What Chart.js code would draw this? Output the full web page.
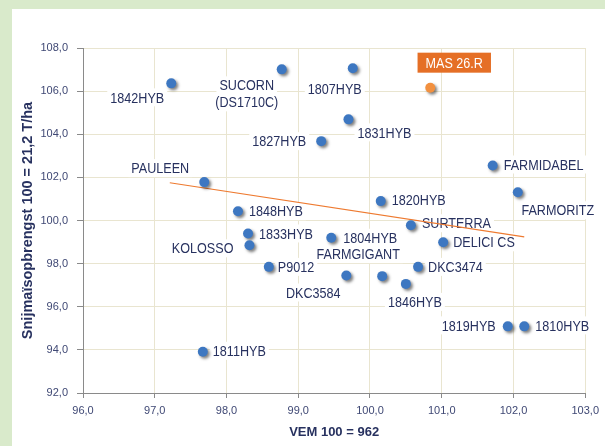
<!DOCTYPE html>
<html><head><meta charset="utf-8">
<script src="https://cdn.jsdelivr.net/npm/chart.js@4"></script>
<style>html,body{margin:0;padding:0;background:#fff;overflow:hidden}canvas{display:block}</style>
</head><body>
<canvas id="c" width="605" height="446"></canvas>
<script>
// ---- data ----
const varieties = ['1842HYB','SUCORN (DS1710C)','1807HYB','1831HYB','1827HYB','PAULEEN','1848HYB','1833HYB','KOLOSSO','P9012','DKC3584','1811HYB','FARMIDABEL','FARMORITZ','1820HYB','SURTERRA','DELICI CS','1804HYB','FARMGIGANT','DKC3474','1846HYB','1819HYB','1810HYB'];
const vem       = [97.23, 98.77, 99.76, 99.70, 99.32, 97.69, 98.16, 98.30, 98.32, 98.59, 99.67, 97.67, 101.71, 102.06, 100.15, 100.57, 101.02, 99.46, 100.17, 100.67, 100.50, 101.92, 102.15];
const yieldIdx  = [106.36, 107.01, 107.06, 104.69, 103.68, 101.78, 100.43, 99.40, 98.85, 97.85, 97.45, 93.91, 102.55, 101.31, 100.90, 99.78, 98.99, 99.20, 97.42, 97.85, 97.06, 95.09, 95.09];
const highlightName  = ['MAS 26.R'];
const highlightVem   = [100.84];
const highlightYield = [106.16];
const trendVem   = [97.21, 102.15];
const trendYield = [101.75, 99.24];
const xTicks = [96, 97, 98, 99, 100, 101, 102, 103];
const yTicks = [92, 94, 96, 98, 100, 102, 104, 106, 108];
const xTitle = 'VEM 100 = 962';
const yTitle = 'Snijmaïsopbrengst 100 = 21,2 T/ha';

// ---- label placement (style) ----
const labelPlacement = {
  '1842HYB': {align:'center', dx:-34, dy:14},
  'SUCORN (DS1710C)': {align:'center', dx:-35, dy:16, lines:['SUCORN','(DS1710C)']},
  '1807HYB': {align:'center', dx:-18, dy:21},
  '1831HYB': {align:'center', dx:36, dy:13},
  '1827HYB': {align:'right', dx:-15, dy:0},
  'PAULEEN': {align:'center', dx:-44, dy:-14},
  '1848HYB': {align:'left', dx:11, dy:0},
  '1833HYB': {align:'left', dx:11, dy:0},
  'KOLOSSO': {align:'right', dx:-16, dy:3},
  'P9012': {align:'left', dx:9, dy:0},
  'DKC3584': {align:'center', dx:-33, dy:17},
  '1811HYB': {align:'left', dx:10, dy:-1},
  'FARMIDABEL': {align:'left', dx:11, dy:-1},
  'FARMORITZ': {align:'center', dx:40, dy:18},
  '1820HYB': {align:'left', dx:11, dy:-1},
  'SURTERRA': {align:'left', dx:11, dy:-2},
  'DELICI CS': {align:'left', dx:10, dy:0},
  '1804HYB': {align:'left', dx:12, dy:0},
  'FARMGIGANT': {align:'center', dx:-24, dy:-22},
  'DKC3474': {align:'left', dx:10, dy:0},
  '1846HYB': {align:'center', dx:9, dy:18},
  '1819HYB': {align:'right', dx:-12, dy:-1},
  '1810HYB': {align:'left', dx:11, dy:-1},
  'MAS 26.R': {align:'center', dx:24, dy:-25, box:true}
};

const FONT = '"Liberation Sans", Arial, sans-serif';
const NAVY = '#27315f';
const GRID = '#e9e5d0';
const AXIS = '#8a8a8a';
const CONDENSE = 0.84;

const bgPlugin = {
  id: 'bg',
  beforeDraw(chart) {
    const ctx = chart.ctx;
    ctx.save();
    ctx.fillStyle = '#d9eacb';
    ctx.fillRect(0, 0, chart.width, chart.height);
    ctx.fillStyle = '#ffffff';
    ctx.fillRect(12, 9, chart.width - 12, chart.height - 9);
    ctx.restore();
  }
};

const labelPlugin = {
  id: 'pointLabels',
  beforeDatasetsDraw(chart) {
    const ctx = chart.ctx;
    ctx.save();
    ctx.font = '15px ' + FONT;
    ctx.textBaseline = 'middle';
    ctx.textAlign = 'left';
    [[0, varieties], [1, highlightName]].forEach(([di, names]) => {
      const meta = chart.getDatasetMeta(di);
      meta.data.forEach((el, j) => {
        const name = names[j];
        const p = labelPlacement[name];
        if (!p) return;
        const lines = p.lines || [name];
        lines.forEach((line, k) => {
          const w = ctx.measureText(line).width * CONDENSE;
          const cy = el.y + p.dy + k * 17;
          let x0;
          if (p.align === 'left') x0 = el.x + p.dx;
          else if (p.align === 'right') x0 = el.x + p.dx - w;
          else x0 = el.x + p.dx - w / 2;
          if (p.box) {
            ctx.fillStyle = '#e56f26';
            ctx.fillRect(x0 - 8, cy - 10, w + 16, 20);
            ctx.fillStyle = '#ffffff';
          } else {
            ctx.fillStyle = '#ffffff';
            ctx.fillRect(x0 - 3, cy - 9, w + 6, 18);
            ctx.fillStyle = NAVY;
          }
          ctx.save();
          ctx.translate(x0, cy + 1);
          ctx.scale(CONDENSE, 1);
          ctx.fillText(line, 0, 0);
          ctx.restore();
        });
      });
    });
    ctx.restore();
  }
};

const shadowPlugin = {
  id: 'shadow',
  beforeDatasetDraw(chart, args) {
    if (args.index > 1) return;
    const ctx = chart.ctx;
    ctx.save();
    ctx.shadowColor = 'rgba(0,0,0,0.5)';
    ctx.shadowBlur = 3;
    ctx.shadowOffsetX = 2;
    ctx.shadowOffsetY = 2;
  },
  afterDatasetDraw(chart, args) {
    if (args.index > 1) return;
    chart.ctx.restore();
  }
};

const fmt = v => Number(v).toFixed(1).replace('.', ',');

new Chart(document.getElementById('c'), {
  type: 'scatter',
  data: {
    datasets: [
      {
        label: 'Rassen',
        data: vem.map((x, i) => ({x, y: yieldIdx[i]})),
        backgroundColor: '#3d77c1',
        borderColor: '#3d77c1',
        pointRadius: 5,
        pointBorderWidth: 0
      },
      {
        label: highlightName[0],
        data: highlightVem.map((x, i) => ({x, y: highlightYield[i]})),
        backgroundColor: '#f2903f',
        borderColor: '#f2903f',
        pointRadius: 5,
        pointBorderWidth: 0
      },
      {
        label: 'Trend',
        data: trendVem.map((x, i) => ({x, y: trendYield[i]})),
        showLine: true,
        borderColor: '#ee7a30',
        borderWidth: 1.2,
        pointRadius: 0,
        fill: false
      }
    ]
  },
  options: {
    responsive: false,
    animation: false,
    devicePixelRatio: 1,
    layout: {padding: {left: 0, right: 18, top: 48, bottom: 0}},
    plugins: {legend: {display: false}, tooltip: {enabled: false}},
    scales: {
      x: {
        type: 'linear',
        min: xTicks[0], max: xTicks[xTicks.length - 1],
        afterBuildTicks: s => { s.ticks = xTicks.map(v => ({value: v})); },
        afterFit: s => { s.height = 53; },
        grid: {color: GRID, lineWidth: 1, tickColor: AXIS, tickLength: 5},
        border: {color: AXIS, width: 1},
        ticks: {color: '#3f4874', font: {family: FONT, size: 11}, padding: 6, callback: v => fmt(v), maxRotation: 0},
        title: {display: true, text: xTitle, color: NAVY, font: {family: FONT, size: 13, weight: 'bold'}, padding: {top: 0, bottom: 6}}
      },
      y: {
        type: 'linear',
        min: yTicks[0], max: yTicks[yTicks.length - 1],
        afterBuildTicks: s => { s.ticks = yTicks.map(v => ({value: v})); },
        afterFit: s => { s.width = 83; },
        grid: {color: GRID, lineWidth: 1, tickColor: AXIS, tickLength: 6},
        border: {color: AXIS, width: 1},
        ticks: {color: '#3f4874', font: {family: FONT, size: 11}, padding: 9, callback: v => fmt(v)},
        title: {display: true, text: yTitle, color: NAVY, font: {family: FONT, size: 14.5, weight: 'bold'}, padding: {top: 19.5, bottom: 0}}
      }
    }
  },
  plugins: [bgPlugin, labelPlugin, shadowPlugin]
});
</script>
</body></html>
